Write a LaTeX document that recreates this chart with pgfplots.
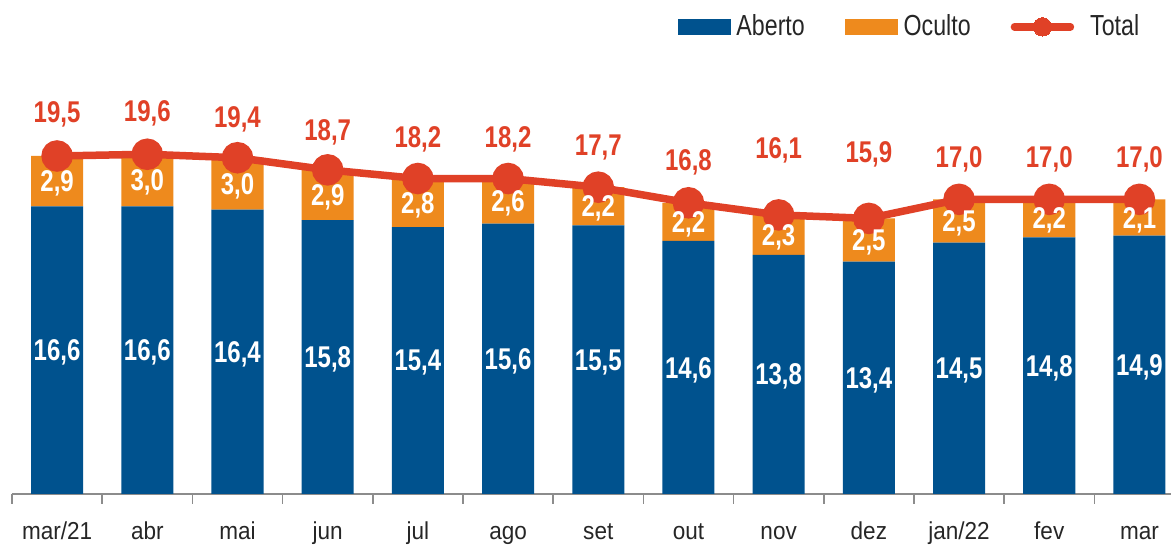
\documentclass[border=0pt]{standalone}
\usepackage{pgfplots}
\pgfplotsset{compat=1.18}
\usepackage{pgfplotstable}
\usepackage{fontspec}
\setmainfont{Liberation Sans}
\newfontfamily\narrowfont[FakeStretch=0.8]{Liberation Sans}
\newfontfamily\tickfont[FakeStretch=0.92]{Liberation Sans}
\definecolor{aberto}{HTML}{00528E}
\definecolor{oculto}{HTML}{EE8A1D}
\definecolor{totalred}{HTML}{E04127}
\definecolor{axisgray}{HTML}{8C8C8C}
\definecolor{labelgray}{HTML}{262626}

\pgfplotstableread{
x aberto oculto total ty
0  16.6 2.9 19.5 22.04
1  16.6 3.0 19.6 22.10
2  16.4 3.0 19.4 21.75
3  15.8 2.9 18.7 21.00
4  15.4 2.8 18.2 20.60
5  15.6 2.6 18.2 20.60
6  15.5 2.2 17.7 20.14
7  14.6 2.2 16.8 19.27
8  13.8 2.3 16.1 19.97
9  13.4 2.5 15.9 19.73
10 14.5 2.5 17.0 19.45
11 14.8 2.2 17.0 19.45
12 14.9 2.1 17.0 19.45
}\data

\pgfplotsset{
  base/.style={
    scale only axis, width=579.5pt, height=247pt,
    xmin=-0.5, xmax=12.35, ymin=0, ymax=28.5,
    at={(0,0)}, anchor=south west, clip=false,
  },
  lbl/.style={
    draw=none, mark=none, forget plot, point meta=explicit,
    nodes near coords={\pgfmathprintnumber[fixed,fixed zerofill,precision=1,use comma,assume math mode=true]{\pgfplotspointmeta}},
    nodes near coords style={anchor=center, inner sep=0pt, yshift=-1.2pt, font=\narrowfont\bfseries\fontsize{15}{18}\selectfont},
  },
}

\begin{document}
\begin{tikzpicture}
\begin{axis}[base,
  axis x line=bottom, axis y line=none,
  axis line style={-, draw=axisgray, line width=0.75pt},
  xtick={0,...,12},
  xticklabels={mar/21,abr,mai,jun,jul,ago,set,out,nov,dez,jan/22,fev,mar},
  major tick length=0pt,
  minor xtick={-0.5,0.5,...,11.5},
  minor tick length=5pt, tick align=outside,
  minor tick style={axisgray, line width=0.75pt},
  xticklabel style={font=\tickfont\fontsize{12.25}{14}\selectfont, text=labelgray, anchor=base, yshift=-23pt},
  ybar stacked, bar width=0.577,
]
\addplot[fill=aberto, draw=none] table[x=x,y=aberto]{\data};
\addplot[fill=oculto, draw=none] table[x=x,y=oculto]{\data};
\end{axis}

\begin{axis}[base, hide axis,
  legend style={at={(axis cs:6.876,26.95)}, anchor=west, draw=none, fill=none,
    inner sep=0pt, legend columns=3,
    font=\narrowfont\fontsize{14.5}{17}\selectfont, text=labelgray,
    nodes={inner xsep=3pt, inner ysep=0pt},
    /tikz/every even column/.append style={column sep=17pt}},
  legend cell align=left,
]
\addlegendimage{legend image code/.code={\fill[aberto] (0pt,-3.75pt) rectangle (26pt,3.75pt);}}
\addlegendentry{Aberto}
\addlegendimage{legend image code/.code={\fill[oculto] (0pt,-3.75pt) rectangle (26pt,3.75pt);}}
\addlegendentry{Oculto}
\addplot[totalred, line width=3.75pt, mark=*, mark size=6pt,
  legend image code/.code={\draw[totalred, line width=3.75pt, line cap=round] (1pt,0)--(29pt,0); \draw[totalred, line width=0pt, fill=totalred] (15pt,0) circle (4.6pt); \path (34pt,0);}]
  table[x=x,y=total]{\data};
\addlegendentry{Total}
\addplot[lbl, nodes near coords style={text=white}] table[x=x, y expr=\thisrow{aberto}/2, meta=aberto]{\data};
\addplot[lbl, nodes near coords style={text=white}] table[x=x, y expr=\thisrow{aberto}+\thisrow{oculto}/2, meta=oculto]{\data};
\addplot[lbl, nodes near coords style={text=totalred}] table[x=x, y=ty, meta=total]{\data};
\end{axis}
\pgfresetboundingbox
\path (-6pt,-25.5pt) rectangle (579.5pt,247pt);
\end{tikzpicture}
\end{document}
